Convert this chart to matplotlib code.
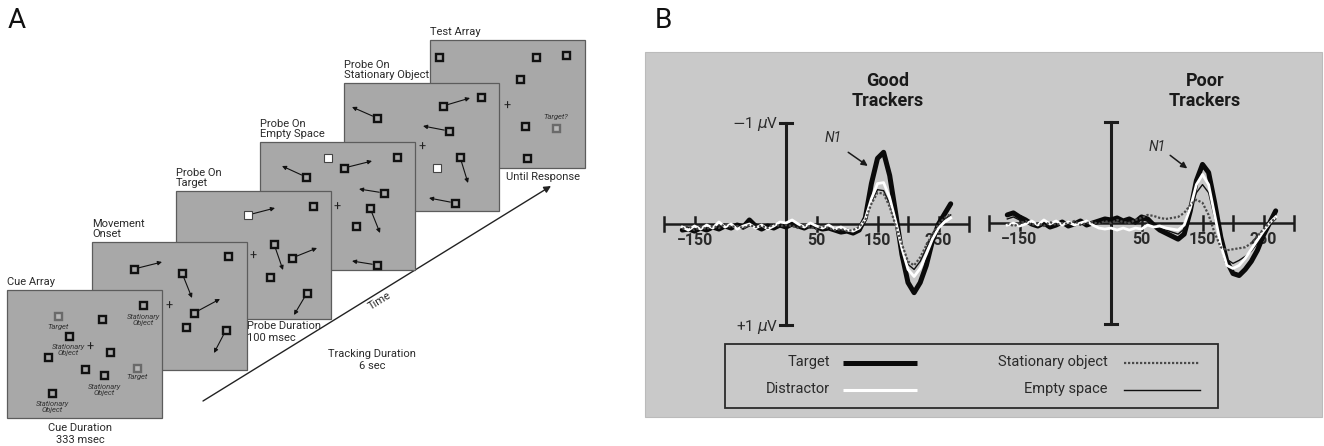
import matplotlib
matplotlib.use('Agg')
import matplotlib.pyplot as plt
from matplotlib.patches import Rectangle

plt.rcParams['font.family'] = ['Roboto', 'DejaVu Sans']

# ---------------- data ----------------
times = list(range(-170, 271, 10))  # ms sample grid

good_target = [0.06, 0.05, 0.07, 0.04, 0.06, 0.03, 0.05, 0.02, 0.04, 0.01,
               0.03, -0.04, 0.02, 0.05, 0.02, 0.04, 0.01, 0.03,
               0.00, 0.02, 0.04, 0.01, 0.03, 0.05, 0.04, 0.06, 0.08, 0.07,
               0.09, 0.06, -0.06, -0.40, -0.65, -0.71, -0.48, -0.10, 0.30, 0.58,
               0.68, 0.58, 0.41, 0.17, 0.00, -0.10, -0.20]
good_distractor = [0.03, 0.06, 0.02, 0.05, 0.01, 0.04, -0.02, 0.03, 0.00, 0.05,
                   0.02, 0.00, 0.04, 0.01, 0.05, 0.02, -0.02, -0.01,
                   -0.04, 0.00, 0.03, -0.01, 0.02, 0.04, 0.01, 0.05, 0.03, 0.06,
                   0.07, 0.04, -0.05, -0.25, -0.40, -0.41, -0.26, -0.02, 0.24, 0.45,
                   0.52, 0.44, 0.30, 0.15, 0.04, -0.02, -0.06]
good_stationary = [0.05, 0.02, 0.06, 0.03, 0.05, 0.02, 0.04, 0.00, 0.03, 0.02,
                   0.04, 0.01, 0.03, 0.02, 0.04, 0.00, 0.02, 0.01,
                   0.02, 0.04, 0.01, 0.03, 0.05, 0.02, 0.04, 0.06, 0.05, 0.07,
                   0.06, 0.03, -0.04, -0.20, -0.31, -0.30, -0.17, 0.02, 0.20, 0.37,
                   0.41, 0.33, 0.21, 0.10, 0.00, -0.06, -0.10]
good_empty = [0.04, 0.06, 0.03, 0.05, 0.03, 0.05, 0.02, 0.04, 0.01, 0.03,
              0.05, 0.02, 0.00, 0.03, 0.04, 0.02, 0.03, 0.02,
              0.01, 0.03, 0.02, 0.04, 0.02, 0.05, 0.03, 0.05, 0.07, 0.06,
              0.08, 0.05, -0.05, -0.22, -0.34, -0.33, -0.20, 0.01, 0.22, 0.40,
              0.45, 0.37, 0.24, 0.11, 0.01, -0.05, -0.09]

poor_target = [-0.08, -0.10, -0.06, -0.03, 0.01, 0.03, 0.00, 0.04, 0.02, -0.01,
               0.03, 0.01, -0.02, 0.02, 0.00, -0.02, -0.04, -0.03,
               -0.05, -0.02, -0.04, -0.01, -0.06, -0.04, 0.02, 0.07, 0.10, 0.13,
               0.16, 0.11, -0.12, -0.42, -0.58, -0.50, -0.20, 0.14, 0.38, 0.50,
               0.52, 0.46, 0.38, 0.27, 0.12, 0.00, -0.12]
poor_distractor = [0.02, 0.00, 0.03, 0.01, -0.02, 0.02, -0.03, 0.01, -0.02, 0.02,
                   -0.01, 0.02, 0.00, -0.02, 0.02, 0.05, 0.06, 0.05,
                   0.07, 0.05, 0.07, 0.05, 0.06, 0.02, 0.04, 0.03, 0.05, 0.06,
                   0.07, 0.02, -0.15, -0.38, -0.48, -0.38, -0.08, 0.22, 0.42, 0.45,
                   0.42, 0.35, 0.26, 0.17, 0.08, 0.00, -0.06]
poor_stationary = [0.00, 0.03, 0.01, -0.02, 0.02, 0.00, 0.03, -0.01, 0.02, 0.00,
                   0.01, -0.02, 0.02, 0.00, -0.01, 0.01, -0.02, 0.00,
                   -0.03, -0.01, 0.00, -0.03, -0.05, -0.08, -0.07, -0.05, -0.04, -0.05,
                   -0.06, -0.10, -0.18, -0.23, -0.20, -0.08, 0.10, 0.24, 0.27, 0.26,
                   0.25, 0.24, 0.20, 0.13, 0.06, 0.00, -0.05]
poor_empty = [-0.04, -0.06, -0.03, -0.01, 0.02, 0.01, 0.02, 0.03, 0.00, 0.01,
              0.02, 0.00, -0.01, 0.01, 0.02, 0.00, -0.02, -0.01,
              -0.02, 0.00, -0.02, 0.01, -0.03, -0.02, 0.02, 0.05, 0.07, 0.09,
              0.11, 0.06, -0.12, -0.30, -0.38, -0.30, -0.05, 0.20, 0.36, 0.40,
              0.37, 0.33, 0.28, 0.20, 0.10, 0.02, -0.04]

tick_positions = [-200, -150, 50, 150, 200, 250, 300]
tick_labels = {-150: '\u2212150', 50: '50', 150: '150', 250: '250'}
series_names = ['Target', 'Distractor', 'Stationary object', 'Empty space']
panel_titles = ['Good\nTrackers', 'Poor\nTrackers']

stage_labels = ['Cue Array', 'Movement\nOnset', 'Probe On\nTarget', 'Probe On\nEmpty Space',
                'Probe On\nStationary Object', 'Test Array']

# ---------------- layout ----------------
W, H = 1324, 446
fig = plt.figure(figsize=(W / 100, H / 100), dpi=100)
base = fig.add_axes([0, 0, 1, 1])
base.set_xlim(0, W)
base.set_ylim(H, 0)
base.axis('off')

TXT = '#2a2a2a'
SCREEN_FC = '#a8a8a8'
SCREEN_EC = '#5c5c5c'

base.text(8, 21, 'A', fontsize=20, va='center', ha='left', color='#111')
base.text(655, 21, 'B', fontsize=20, va='center', ha='left', color='#111')

# ---------- Panel A ----------
screen_origins = [(7, 290), (92, 242), (176, 191), (260, 142), (344, 83), (430, 40)]
SW, SH = 155, 128
# objects: (x, y, kind) local coords; kind b=black, t=target(gray), w=white probe
screen_objects = [
    [(51, 26, 't'), (95, 29, 'b'), (136, 15, 'b'), (62, 46, 'b'), (103, 62, 'b'),
     (41, 67, 'b'), (78, 79, 'b'), (97, 85, 'b'), (130, 78, 't'), (45, 103, 'b')],
    [(42, 27, 'b'), (136, 14, 'b'), (90, 31, 'b'), (102, 71, 'b'), (94, 85, 'b'), (134, 88, 'b')],
    [(72, 24, 'w'), (137, 15, 'b'), (98, 53, 'b'), (116, 67, 'b'), (94, 86, 'b'), (131, 102, 'b')],
    [(68, 16, 'w'), (46, 35, 'b'), (84, 26, 'b'), (137, 15, 'b'), (124, 51, 'b'),
     (110, 66, 'b'), (96, 84, 'b'), (117, 123, 'b')],
    [(33, 35, 'b'), (99, 23, 'b'), (137, 14, 'b'), (105, 48, 'b'), (93, 85, 'w'),
     (116, 74, 'b'), (111, 120, 'b')],
    [(9, 17, 'b'), (106, 17, 'b'), (136, 15, 'b'), (90, 39, 'b'), (95, 86, 'b'),
     (126, 88, 't'), (97, 118, 'b')],
]
screen_arrows = [
    [],
    [(42, 27, 70, 20), (90, 31, 100, 56), (102, 71, 128, 57), (134, 88, 122, 111)],
    [(72, 24, 99, 17), (98, 53, 107, 79), (116, 67, 141, 57), (131, 102, 118, 124)],
    [(46, 35, 22, 24), (84, 26, 112, 19), (124, 51, 99, 47), (110, 66, 120, 91), (117, 123, 92, 119)],
    [(33, 35, 8, 24), (99, 23, 126, 15), (105, 48, 79, 43), (116, 74, 124, 100), (111, 120, 85, 115)],
    [],
]
fixations = [(83, 57), (77, 64), (77, 65), (77, 65), (78, 64), (77, 66)]
cue_texts = [(51, 37, 'Target'), (136, 30, 'Stationary\nObject'), (61, 60, 'Stationary\nObject'),
             (97, 100, 'Stationary\nObject'), (130, 87, 'Target'), (45, 117, 'Stationary\nObject')]

for k in range(5, -1, -1):
    ox, oy = screen_origins[k]
    z = 10 + (5 - k) * 5
    base.add_patch(Rectangle((ox, oy), SW, SH, fc=SCREEN_FC, ec=SCREEN_EC, lw=0.9, zorder=z))
    base.text(ox, oy - 3, stage_labels[k], fontsize=8, ha='left', va='bottom', color=TXT,
              linespacing=1.05, zorder=z)
    fx, fy = fixations[k]
    base.text(ox + fx, oy + fy, '+', fontsize=9, ha='center', va='center', color='#222', zorder=z + 1)
    for (x0, y0, x1, y1) in screen_arrows[k]:
        base.annotate('', xy=(ox + x1, oy + y1), xytext=(ox + x0, oy + y0),
                      arrowprops=dict(arrowstyle='-|>', lw=0.8, color='#111', mutation_scale=6,
                                      shrinkA=3.5, shrinkB=0), zorder=z + 1)
    for (x, y, kind) in screen_objects[k]:
        if kind == 'b':
            base.add_patch(Rectangle((ox + x - 3.5, oy + y - 3.5), 7, 7, fc=SCREEN_FC, ec='#111',
                                     lw=1.7, zorder=z + 2))
        elif kind == 't':
            base.add_patch(Rectangle((ox + x - 3.5, oy + y - 3.5), 7, 7, fc='#b8b8b8', ec='#6a6a6a',
                                     lw=1.7, zorder=z + 2))
        else:
            base.add_patch(Rectangle((ox + x - 4, oy + y - 4), 8, 8, fc='white', ec='#444',
                                     lw=0.8, zorder=z + 2))
    if k == 0:
        for (x, y, s) in cue_texts:
            base.text(ox + x, oy + y, s, fontsize=5.5, style='italic', ha='center', va='center',
                      color='#333', linespacing=1.1, zorder=z + 1)
    if k == 5:
        base.text(ox + 126, oy + 77, 'Target?', fontsize=5.5, style='italic', ha='center',
                  va='center', color='#333', zorder=z + 1)

base.text(80, 434, 'Cue Duration\n333 msec', fontsize=8, ha='center', va='center', color=TXT, linespacing=1.15)
base.text(247, 332, 'Probe Duration\n100 msec', fontsize=8, ha='left', va='center', color=TXT, linespacing=1.15)
base.text(372, 360, 'Tracking Duration\n6 sec', fontsize=8, ha='center', va='center', color=TXT, linespacing=1.15)
base.text(543, 177, 'Until Response', fontsize=8, ha='center', va='center', color=TXT)
base.annotate('', xy=(551, 186), xytext=(203, 401),
              arrowprops=dict(arrowstyle='-|>', lw=1.0, color='#222', mutation_scale=10, shrinkA=0, shrinkB=0))
base.text(380, 301, 'Time', fontsize=8, rotation=31.7, ha='center', va='center', color=TXT,
          rotation_mode='anchor')

# ---------- Panel B ----------
base.add_patch(Rectangle((645, 52), 677, 365, fc='#c9c9c9', ec='#bbbbbb', lw=0.8, zorder=0))

PXMS = 0.61
PXUV = 101.0


def erp_axes(x0, y0):
    t_lo, t_hi, v_lim = -230, 320, 1.2
    left = x0 + PXMS * t_lo
    right = x0 + PXMS * t_hi
    top = y0 - PXUV * v_lim
    bottom = y0 + PXUV * v_lim
    ax = fig.add_axes([left / W, 1 - bottom / H, (right - left) / W, (bottom - top) / H])
    ax.set_xlim(t_lo, t_hi)
    ax.set_ylim(v_lim, -v_lim)
    ax.axis('off')
    ax.patch.set_alpha(0)
    return ax


panels = [
    (786, 224, good_target, good_distractor, good_stationary, good_empty, (77, -0.85), (102, -0.71, 134, -0.575)),
    (1111, 223, poor_target, poor_distractor, poor_stationary, poor_empty, (75, -0.75), (97, -0.67, 125, -0.54)),
]

AX_C = '#1c1c1c'
for i, (x0, y0, tg, ds, st, em, n1pos, n1arr) in enumerate(panels):
    ax = erp_axes(x0, y0)
    # axes
    ax.plot([-200, 300], [0, 0], color=AX_C, lw=1.8, zorder=2, solid_capstyle='butt')
    for tp in tick_positions:
        ax.plot([tp, tp], [-0.065, 0.065], color=AX_C, lw=1.8, zorder=2)
    for tp, lab in tick_labels.items():
        ax.text(tp, 0.165, lab, fontsize=11.5, fontweight='bold', ha='center', va='center',
                color='#2a2a2a', zorder=1)
    ax.plot([0, 0], [-1, 1], color=AX_C, lw=2.2, zorder=2)
    for vv in (-1, 1):
        ax.plot([-10, 10], [vv, vv], color=AX_C, lw=2.2, zorder=2)
    # curves
    ax.plot(times, tg, color='#0a0a0a', lw=3.6, zorder=3, solid_joinstyle='round', solid_capstyle='round')
    ax.plot(times, em, color='#111111', lw=1.0, zorder=4)
    ax.plot(times, ds, color='white', lw=2.0, zorder=5, solid_joinstyle='round')
    ax.plot(times, st, color='#4a4a4a', lw=1.6, ls=(0, (1, 0.8)), zorder=6)
    # N1
    ax.text(n1pos[0], n1pos[1], 'N1', fontsize=10, style='italic', ha='center', va='center', color='#2a2a2a')
    ax.annotate('', xy=(n1arr[2], n1arr[3]), xytext=(n1arr[0], n1arr[1]),
                arrowprops=dict(arrowstyle='-|>', lw=1.1, color='#1a1a1a', mutation_scale=9,
                                shrinkA=0, shrinkB=0))

base.text(888, 91, panel_titles[0], fontsize=13, fontweight='bold', ha='center', va='center',
          color='#1a1a1a', linespacing=1.15)
base.text(1205, 91, panel_titles[1], fontsize=13, fontweight='bold', ha='center', va='center',
          color='#1a1a1a', linespacing=1.15)
base.text(778, 124, r'$-$1 $\mu$V', fontsize=11, ha='right', va='center', color='#2a2a2a')
base.text(778, 327, r'+1 $\mu$V', fontsize=11, ha='right', va='center', color='#2a2a2a')

# legend
base.add_patch(Rectangle((725, 344), 493, 64, fc='none', ec='#2a2a2a', lw=1.3, zorder=5))
leg_items = [
    (series_names[0], 830, 362, 843, 917, dict(color='#0a0a0a', lw=3.6, solid_capstyle='butt')),
    (series_names[1], 830, 389, 843, 917, dict(color='white', lw=2.2, solid_capstyle='butt')),
    (series_names[2], 1108, 362, 1124, 1200, dict(color='#4a4a4a', lw=1.6, ls=(0, (1, 0.8)))),
    (series_names[3], 1108, 389, 1124, 1200, dict(color='#111111', lw=1.0)),
]
for name, tx, ty, lx0, lx1, kw in leg_items:
    base.text(tx, ty, name, fontsize=10.5, ha='right', va='center', color='#2a2a2a', zorder=6)
    base.plot([lx0, lx1], [ty + 1, ty + 1], zorder=6, **kw)

fig.savefig('out.png', dpi=100)
